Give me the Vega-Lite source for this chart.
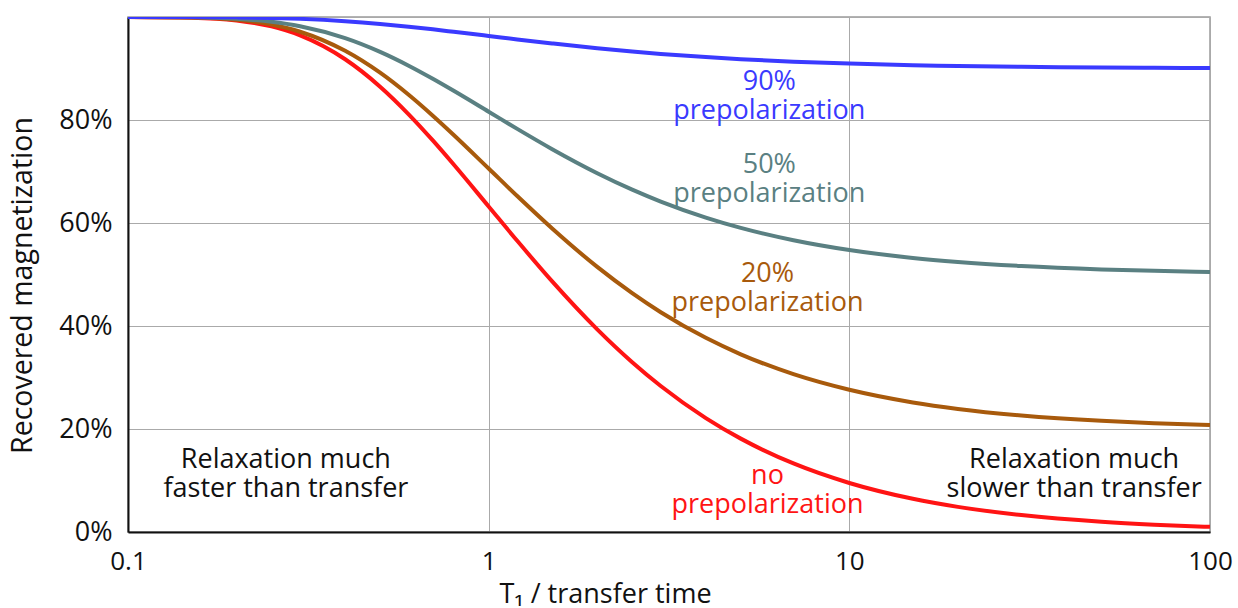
{
  "$schema": "https://vega.github.io/schema/vega-lite/v6.json",
  "width": 1082,
  "height": 515,
  "autosize": {"type": "none"},
  "padding": {"left": 128, "top": 17, "right": 28, "bottom": 76},
  "background": "white",
  "config": {
    "font": "Open Sans",
    "view": {"stroke": "#9a9a9a", "strokeWidth": 1.5},
    "axis": {"gridColor": "#aaaaaa", "gridWidth": 1, "gridOpacity": 1, "ticks": false, "domainColor": "#111111", "domainWidth": 2, "labelColor": "#111111", "titleColor": "#111111", "labelFont": "Open Sans", "titleFont": "Open Sans", "labelFontSize": 26, "titleFontSize": 27, "titleFontWeight": "normal"}
  },
  "datasets": {
    "curves": [
      {"t": 0.1, "series": "none", "m": 1.0}, {"t": 0.15, "series": "none", "m": 0.9987}, {"t": 0.2, "series": "none", "m": 0.9933}, {"t": 0.25, "series": "none", "m": 0.9817}, {"t": 0.3, "series": "none", "m": 0.9643}, {"t": 0.4, "series": "none", "m": 0.9179}, {"t": 0.5, "series": "none", "m": 0.8647}, {"t": 0.6, "series": "none", "m": 0.8111}, {"t": 0.7, "series": "none", "m": 0.7603}, {"t": 0.8, "series": "none", "m": 0.7135}, {"t": 1, "series": "none", "m": 0.6321}, {"t": 1.2, "series": "none", "m": 0.5654}, {"t": 1.5, "series": "none", "m": 0.4866}, {"t": 2, "series": "none", "m": 0.3935}, {"t": 2.5, "series": "none", "m": 0.3297}, {"t": 3, "series": "none", "m": 0.2835}, {"t": 4, "series": "none", "m": 0.2212}, {"t": 5, "series": "none", "m": 0.1813}, {"t": 7, "series": "none", "m": 0.1331}, {"t": 10, "series": "none", "m": 0.0952}, {"t": 15, "series": "none", "m": 0.0645}, {"t": 20, "series": "none", "m": 0.0488}, {"t": 30, "series": "none", "m": 0.0328}, {"t": 50, "series": "none", "m": 0.0198}, {"t": 70, "series": "none", "m": 0.0142}, {"t": 100, "series": "none", "m": 0.01},
      {"t": 0.1, "series": "p20", "m": 1.0}, {"t": 0.15, "series": "p20", "m": 0.999}, {"t": 0.2, "series": "p20", "m": 0.9946}, {"t": 0.25, "series": "p20", "m": 0.9854}, {"t": 0.3, "series": "p20", "m": 0.9714}, {"t": 0.4, "series": "p20", "m": 0.9343}, {"t": 0.5, "series": "p20", "m": 0.8918}, {"t": 0.6, "series": "p20", "m": 0.8489}, {"t": 0.7, "series": "p20", "m": 0.8082}, {"t": 0.8, "series": "p20", "m": 0.7708}, {"t": 1, "series": "p20", "m": 0.7057}, {"t": 1.2, "series": "p20", "m": 0.6523}, {"t": 1.5, "series": "p20", "m": 0.5893}, {"t": 2, "series": "p20", "m": 0.5148}, {"t": 2.5, "series": "p20", "m": 0.4638}, {"t": 3, "series": "p20", "m": 0.4268}, {"t": 4, "series": "p20", "m": 0.377}, {"t": 5, "series": "p20", "m": 0.345}, {"t": 7, "series": "p20", "m": 0.3065}, {"t": 10, "series": "p20", "m": 0.2762}, {"t": 15, "series": "p20", "m": 0.2516}, {"t": 20, "series": "p20", "m": 0.239}, {"t": 30, "series": "p20", "m": 0.2262}, {"t": 50, "series": "p20", "m": 0.2158}, {"t": 70, "series": "p20", "m": 0.2114}, {"t": 100, "series": "p20", "m": 0.208},
      {"t": 0.1, "series": "p50", "m": 1.0}, {"t": 0.15, "series": "p50", "m": 0.9994}, {"t": 0.2, "series": "p50", "m": 0.9966}, {"t": 0.25, "series": "p50", "m": 0.9908}, {"t": 0.3, "series": "p50", "m": 0.9821}, {"t": 0.4, "series": "p50", "m": 0.959}, {"t": 0.5, "series": "p50", "m": 0.9323}, {"t": 0.6, "series": "p50", "m": 0.9055}, {"t": 0.7, "series": "p50", "m": 0.8801}, {"t": 0.8, "series": "p50", "m": 0.8567}, {"t": 1, "series": "p50", "m": 0.8161}, {"t": 1.2, "series": "p50", "m": 0.7827}, {"t": 1.5, "series": "p50", "m": 0.7433}, {"t": 2, "series": "p50", "m": 0.6967}, {"t": 2.5, "series": "p50", "m": 0.6648}, {"t": 3, "series": "p50", "m": 0.6417}, {"t": 4, "series": "p50", "m": 0.6106}, {"t": 5, "series": "p50", "m": 0.5906}, {"t": 7, "series": "p50", "m": 0.5666}, {"t": 10, "series": "p50", "m": 0.5476}, {"t": 15, "series": "p50", "m": 0.5322}, {"t": 20, "series": "p50", "m": 0.5244}, {"t": 30, "series": "p50", "m": 0.5164}, {"t": 50, "series": "p50", "m": 0.5099}, {"t": 70, "series": "p50", "m": 0.5071}, {"t": 100, "series": "p50", "m": 0.505},
      {"t": 0.1, "series": "p90", "m": 1.0}, {"t": 0.15, "series": "p90", "m": 0.9999}, {"t": 0.2, "series": "p90", "m": 0.9993}, {"t": 0.25, "series": "p90", "m": 0.9982}, {"t": 0.3, "series": "p90", "m": 0.9964}, {"t": 0.4, "series": "p90", "m": 0.9918}, {"t": 0.5, "series": "p90", "m": 0.9865}, {"t": 0.6, "series": "p90", "m": 0.9811}, {"t": 0.7, "series": "p90", "m": 0.976}, {"t": 0.8, "series": "p90", "m": 0.9713}, {"t": 1, "series": "p90", "m": 0.9632}, {"t": 1.2, "series": "p90", "m": 0.9565}, {"t": 1.5, "series": "p90", "m": 0.9487}, {"t": 2, "series": "p90", "m": 0.9393}, {"t": 2.5, "series": "p90", "m": 0.933}, {"t": 3, "series": "p90", "m": 0.9283}, {"t": 4, "series": "p90", "m": 0.9221}, {"t": 5, "series": "p90", "m": 0.9181}, {"t": 7, "series": "p90", "m": 0.9133}, {"t": 10, "series": "p90", "m": 0.9095}, {"t": 15, "series": "p90", "m": 0.9064}, {"t": 20, "series": "p90", "m": 0.9049}, {"t": 30, "series": "p90", "m": 0.9033}, {"t": 50, "series": "p90", "m": 0.902}, {"t": 70, "series": "p90", "m": 0.9014}, {"t": 100, "series": "p90", "m": 0.901}
    ],
    "labels": [
      {"t": 6.0, "m": 0.858, "series": "p90", "label": "90%\nprepolarization"},
      {"t": 6.0, "m": 0.697, "series": "p50", "label": "50%\nprepolarization"},
      {"t": 5.93, "m": 0.485, "series": "p20", "label": "20%\nprepolarization"},
      {"t": 5.93, "m": 0.094, "series": "none", "label": "no\nprepolarization"},
      {"t": 0.274, "m": 0.124, "series": "black", "label": "Relaxation much\nfaster than transfer"},
      {"t": 42, "m": 0.124, "series": "black", "label": "Relaxation much\nslower than transfer"}
    ]
  },
  "encoding": {
    "x": {"field": "t", "type": "quantitative", "scale": {"type": "log", "domain": [0.1, 100]},
      "axis": {"values": [0.1, 1, 10, 100], "format": "~g", "labelPadding": 16, "title": "T₁ / transfer time", "titlePadding": 7, "titleX": 477, "labelFlush": false}},
    "y": {"field": "m", "type": "quantitative", "scale": {"domain": [0, 1], "nice": false},
      "axis": {"values": [0, 0.2, 0.4, 0.6, 0.8, 1], "format": ".0%", "labelPadding": 16, "labelFontSize": 27, "title": "Recovered magnetization", "titleFontSize": 28.5, "titlePadding": 21, "titleY": 268,
        "labelExpr": "datum.value == 1 ? '' : datum.label"}},
    "color": {"field": "series", "type": "nominal", "legend": null,
      "scale": {"domain": ["none", "p20", "p50", "p90", "black"], "range": ["#ff1414", "#a85a0c", "#5a8082", "#3a3aff", "#111111"]}}
  },
  "layer": [
    {"data": {"name": "curves"}, "mark": {"type": "line", "strokeWidth": 4, "interpolate": "monotone", "clip": true},
      "encoding": {"detail": {"field": "series"}}},
    {"data": {"name": "labels"}, "mark": {"type": "text", "fontSize": 27, "lineHeight": 29, "align": "center", "baseline": "alphabetic", "lineBreak": "\n"},
      "encoding": {"text": {"field": "label"}}}
  ]
}
